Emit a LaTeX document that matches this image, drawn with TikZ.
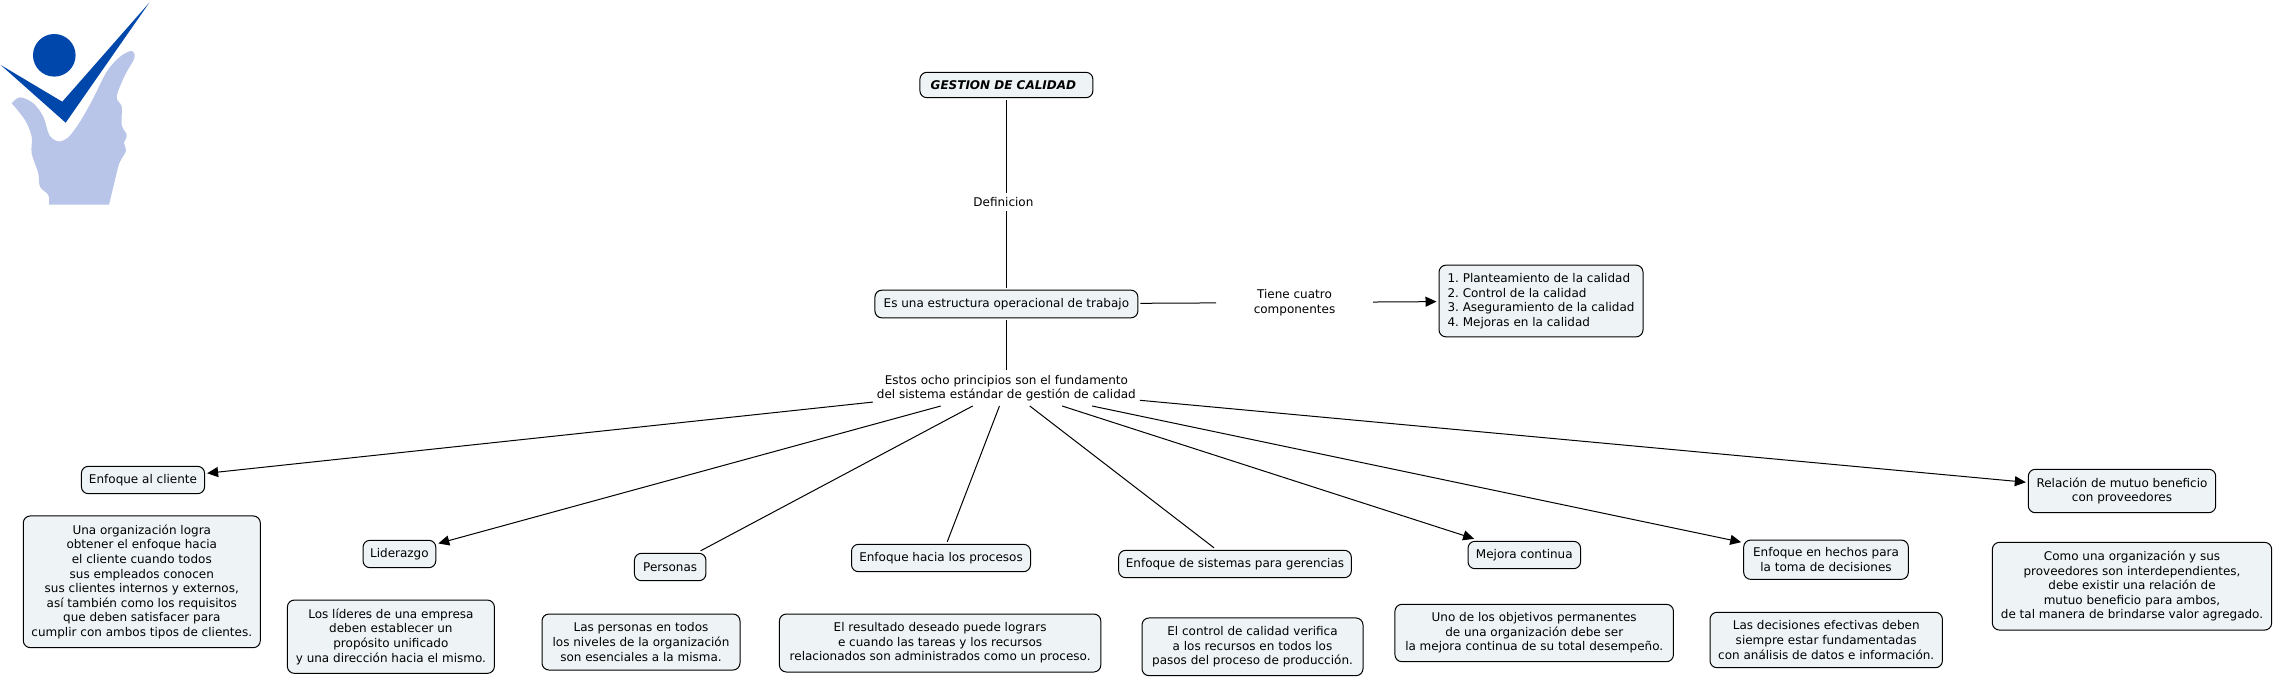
\documentclass[tikz,border=0pt]{standalone}
\usepackage{fontspec}
\setmainfont{DejaVu Sans}
\usetikzlibrary{arrows.meta}
\definecolor{boxfill}{HTML}{EEF4F6}
\definecolor{logodark}{HTML}{0047AB}
\definecolor{logolight}{HTML}{B8C4E8}
\frenchspacing
\tikzset{
  base/.style={inner sep=0pt,outer sep=2.5pt,align=center,font=\fontsize{12}{14.6}\selectfont,text=black},
  cbox/.style={base,draw=black,line width=1pt,fill=boxfill,rounded corners=7pt},
  label/.style={base},
  conn/.style={draw=black,line width=1pt},
  arr/.style={conn,-{Triangle[length=11pt,width=10pt]}},
}
\newcommand{\cb}[5]{\node[cbox,minimum width=#3 pt,minimum height=#4 pt] (#1) at (#2) {#5};}
\begin{document}
\begin{tikzpicture}[x=1pt,y=-1pt]
\useasboundingbox (0,0) rectangle (2275,678);
% logo
\fill[logolight] plot[smooth,tension=0.55] coordinates {
 (11.7,103.3) (20,97.3) (33.3,103.3) (43.3,116.7) (49.3,135) (58.3,141.3) (68.3,137.3) (80,121.7) (93.3,98.3) (106.7,71.7) (120,56.7) (131.7,51) (134.3,58.3) (125,75) (116.7,96.7) (121.7,106.7) (121.7,125) (126.7,135) (124,143.3) (126,150.7) (119.3,163.3) (115,180) (109,204.7)}
 -- (49,204.7) -- plot[smooth,tension=0.55] coordinates {(49,204.7) (48.3,195) (40,186.7) (38.3,173.3) (31.7,153.3) (31.7,136.7) (25,120) (11.7,103.3)} -- cycle;
\fill[logodark] (0.7,65) -- (62.3,101.7) -- (149.3,2.7) -- (65.7,122.7) -- cycle;
\fill[logodark] (54.3,55.3) circle[radius=21.3];
% central nodes
\cb{gest}{1006.4,85}{173}{25.4}{\fontsize{12}{14.6}\bfseries\itshape\selectfont GESTION DE CALIDAD\kern 6pt}
\node[label,minimum width=60pt,minimum height=13pt] (defi) at (1006.4,202) {Definicion\kern 6pt};
\cb{estr}{1006.4,304}{263}{27.7}{Es una estructura operacional de trabajo}
\node[label,minimum width=262pt,minimum height=31pt] (princ) at (1006.4,388) {Estos ocho principios son el fundamento\\del sistema estándar de gestión de calidad};
\node[label,minimum width=152pt,minimum height=30pt] (tiene) at (1294.5,302.5) {Tiene cuatro\\componentes};
\node[cbox,minimum width=204pt,minimum height=71.7pt,align=left] (comp) at (1541,301) {1. Planteamiento de la calidad\\2. Control de la calidad\\3. Aseguramiento de la calidad\\4. Mejoras en la calidad};
% principles
\cb{p1}{143,480}{123.2}{27.4}{Enfoque al cliente}
\cb{p2}{399.4,554}{72.8}{27.4}{Liderazgo}
\cb{p3}{670.2,567}{71.5}{27.4}{Personas}
\cb{p4}{941,558}{179}{27.4}{Enfoque hacia los procesos}
\cb{p5}{1235,564}{232.7}{27.4}{Enfoque de sistemas para gerencias}
\cb{p6}{1524.3,555}{112.6}{27.4}{Mejora continua}
\cb{p7}{1826,559.7}{164.6}{39.3}{Enfoque en hechos para\\la toma de decisiones}
\cb{p8}{2122,491}{187.4}{43.4}{Relación de mutuo beneficio\\con proveedores}
% descriptions
\cb{d1}{141.8,581.8}{237}{131.7}{Una organización logra\\obtener el enfoque hacia\\el cliente cuando todos\\sus empleados conocen\\sus clientes internos y externos,\\así también como los requisitos\\que deben satisfacer para\\cumplir con ambos tipos de clientes.}
\cb{d2}{390.9,636.7}{207}{73.3}{Los líderes de una empresa\\deben establecer un\\propósito unificado\\y una dirección hacia el mismo.}
\cb{d3}{641,642}{198}{56}{Las personas en todos\\los niveles de la organización\\son esenciales a la misma.}
\cb{d4}{940.1,643}{321.4}{58}{El resultado deseado puede logrars\\e cuando las tareas y los recursos\\relacionados son administrados como un proceso.}
\cb{d5}{1252.5,646.8}{221}{57.7}{El control de calidad verifica\\a los recursos en todos los\\pasos del proceso de producción.}
\cb{d6}{1534.2,633}{278.5}{57.4}{Uno de los objetivos permanentes\\de una organización debe ser\\la mejora continua de su total desempeño.}
\cb{d7}{1826.2,640}{232.4}{55.4}{Las decisiones efectivas deben\\siempre estar fundamentadas\\con análisis de datos e información.}
\cb{d8}{2132,586.2}{279.3}{87.7}{Como una organización y sus\\proveedores son interdependientes,\\debe existir una relación de\\mutuo beneficio para ambos,\\de tal manera de brindarse valor agregado.}
% connectors
\draw[conn] (gest) -- (defi);
\draw[conn] (defi) -- (estr);
\draw[conn] (estr) -- (princ);
\draw[conn] (estr) -- (tiene);
\draw[arr] (tiene) -- (comp);
\draw[arr] (princ) -- (p1);
\draw[arr] (princ) -- (p2);
\draw[conn] (princ) -- (p3);
\draw[conn] (princ) -- (p4);
\draw[conn] (princ) -- (p5);
\draw[arr] (princ) -- (p6);
\draw[arr] (princ) -- (p7);
\draw[arr] (princ) -- (p8);
\end{tikzpicture}
\end{document}
